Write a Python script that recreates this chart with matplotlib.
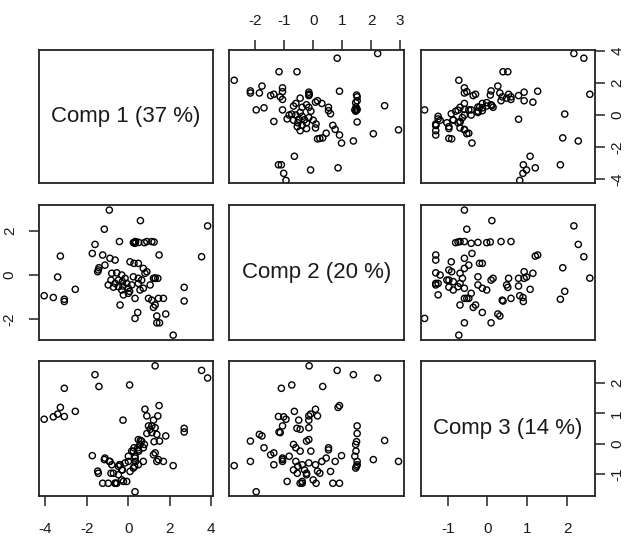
import matplotlib
matplotlib.use("Agg")
import matplotlib.pyplot as plt
from matplotlib import font_manager

# ---- data ----
comp1 = [-4.06, -3.62, -3.41, -3.28, -3.09, -3.09, -2.56,
         3.82, 3.53, 2.69, 2.69, 2.16, 1.80,
         1.29, -1.61, -1.42, 0.06,
         -0.92, 0.58, -1.16, -1.74, 0.32, -0.26,
         -0.43, 0.24, 0.30, 0.35, 0.32, 0.50, 0.77, 0.89, 1.13, 1.24,
         1.48, -1.24, -0.89, -0.64, 0.08, 0.27, 0.48,
         -1.45, -1.48, -0.80, -0.84,
         -0.32, -0.16, -0.48, -0.29, -0.08,
         0.24, 0.48, 0.80, 0.89, 0.64, 0.48, 0.72, 0.56,
         1.21, 1.29, 1.42, 1.05,
         -0.64, -0.48, 0.00, -0.32, 0.00,
         0.32, 0.97, 1.13, 1.45, 1.69, 1.29, 1.21, -0.40,
         1.37, 1.37, 1.50, 0.45,
         -0.97, -0.72, -0.56, -1.13, -0.24, 0.16, 0.72]
comp2 = [-0.94, -1.02, -0.09, 0.86, -1.20, -1.10, -0.65,
         2.23, 0.83, -0.56, -1.18, -2.73, -1.77,
         -0.14, 1.39, 0.33, -0.74,
         2.95, 2.47, 2.08, 0.98, -1.97, -0.50,
         1.52, 1.47, 1.50, 1.52, 1.44, 1.48, 1.47, 1.52, 1.52, 1.50,
         0.91, 0.91, 0.76, 0.68, 0.60, 0.53, 0.53,
         0.23, 0.15, 0.08, -0.23,
         0.00, -0.15, -0.23, -0.30, -0.38,
         -0.08, -0.15, 0.08, 0.15, -0.23, -0.38, -0.60, -0.68,
         -0.15, -0.15, -0.15, -0.45,
         -0.38, -0.53, -0.60, -0.68, -0.83,
         -1.06, -1.06, -1.14, -1.06, -1.06, -1.36, -1.47, -1.36,
         -1.86, -2.17, -2.17, -1.70,
         -0.45, -0.55, 0.10, 0.45, -0.90, -0.45, 0.30]
comp3 = [0.81, 0.89, 0.98, 1.20, 0.90, 1.83, 1.07,
         2.17, 2.42, 0.51, 0.39, -0.72, 0.26,
         2.57, 2.28, 1.89, 1.94,
         -0.58, 0.11, -0.52, -0.39, -1.58, 0.78,
         -0.69, -0.80, -0.74, -0.58, -0.41, -0.24, -0.02, 0.34, 0.59, 0.07,
         1.26, -1.30, -0.58, -1.30, -0.91, -0.13, -0.20,
         -0.97, -0.90, -0.69, -0.97,
         -1.19, -0.63, -1.02, -0.86, -1.24,
         -0.24, 0.14, 1.14, 0.92, 0.09, -0.69, -0.13, -0.02,
         0.78, 0.53, 0.92, 0.48,
         -1.30, -0.74, -0.58, -0.86, -0.41,
         -0.47, 0.59, 0.37, -0.52, -0.58, -0.30, -0.36, -0.69,
         0.31, -0.58, 0.09, -0.13,
         -1.30, -0.97, -1.30, -0.47, -1.24, -0.24, -0.58]
labels = ["Comp 1 (37 %)", "Comp 2 (20 %)", "Comp 3 (14 %)"]
xticks = [[-4, -2, 0, 2, 4], [-2, -1, 0, 1, 2, 3], [-1, 0, 1, 2]]
yticks = [[-4, -2, 0, 2, 4], [-2, 0, 2], [-1, 0, 1, 2]]

comps = [comp1, comp2, comp3]

# ---- layout ----
W, H = 626, 541
xlims = [(-4.31, 4.08), (-2.91, 3.14), (-1.67, 2.70)]
ylims = [(-4.22, 4.04), (-2.95, 3.18), (-1.72, 2.73)]
cols_px = [(39, 213), (229, 404), (421, 595)]
rows_px = [(50, 183), (205, 340), (361, 496)]

names = {f.name for f in font_manager.fontManager.ttflist}
fam = "Liberation Sans Narrow" if "Liberation Sans Narrow" in names else "Liberation Sans"
plt.rcParams["font.family"] = [fam, "DejaVu Sans"]
plt.rcParams["axes.unicode_minus"] = False

fig = plt.figure(figsize=(W / 100, H / 100), dpi=100)
fig.patch.set_facecolor("white")

tick_fs = 11
for i in range(3):
    for j in range(3):
        x0, x1 = cols_px[j]
        y0, y1 = rows_px[i]
        ax = fig.add_axes([x0 / W, 1 - y1 / H, (x1 - x0) / W, (y1 - y0) / H])
        ax.set_xlim(*xlims[j])
        ax.set_ylim(*ylims[i])
        for s in ax.spines.values():
            s.set_linewidth(1.3)
            s.set_color("#222222")
        ax.tick_params(length=7, width=1.1, color="#222222", labelsize=tick_fs,
                       labelcolor="#1a1a1a", direction="out", pad=9)
        ax.set_xticks([])
        ax.set_yticks([])
        if i == j:
            ax.text(0.5, 0.5, labels[i], transform=ax.transAxes, ha="center",
                    va="center", fontsize=16, color="#1a1a1a")
        else:
            ax.scatter(comps[j], comps[i], s=20, facecolors="none",
                       edgecolors="black", linewidths=1.0)
        # x axes: odd columns bottom (last row), even column top (first row)
        if j % 2 == 0 and i == 2:
            ax.set_xticks(xticks[j])
            ax.xaxis.set_ticks_position("bottom")
            ax.tick_params(axis="x", pad=12)
        if j % 2 == 1 and i == 0:
            ax.set_xticks(xticks[j])
            ax.xaxis.set_ticks_position("top")
        # y axes: row 2 left (first column), rows 1 and 3 right (last column)
        if i % 2 == 1 and j == 0:
            ax.set_yticks(yticks[i])
            ax.yaxis.set_ticks_position("left")
            for t in ax.get_yticklabels():
                t.set_rotation(90)
                t.set_va("center")
        if i % 2 == 0 and j == 2:
            ax.set_yticks(yticks[i])
            ax.yaxis.set_ticks_position("right")
            ax.tick_params(axis="y", pad=4)
            for t in ax.get_yticklabels():
                t.set_rotation(90)
                t.set_va("center")

fig.savefig("out.png", dpi=100, facecolor="white")
